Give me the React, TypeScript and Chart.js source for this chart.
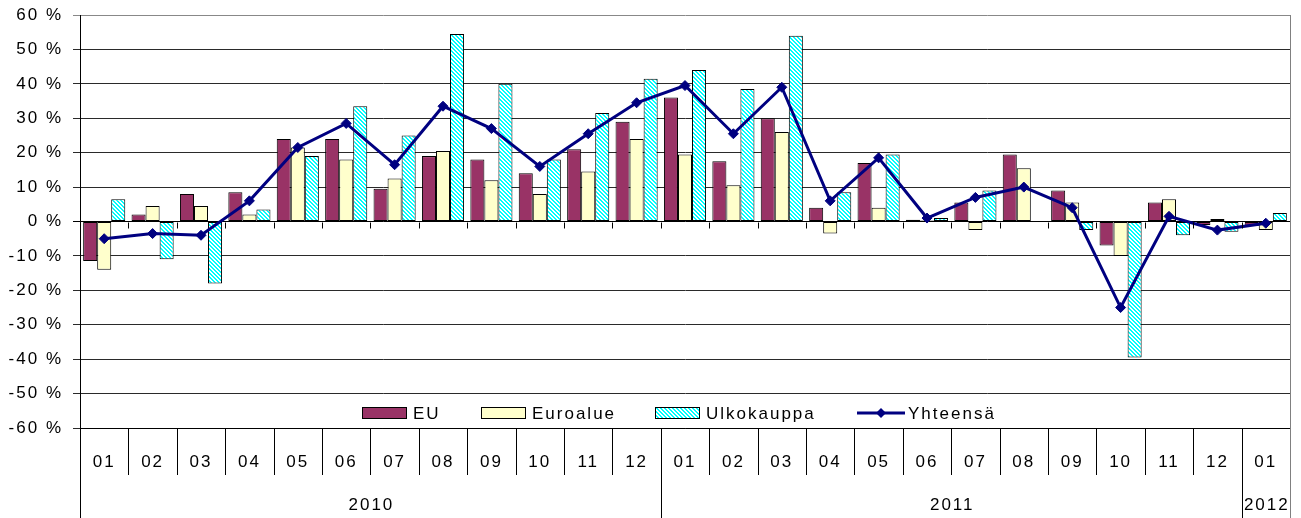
import React, { useEffect, useRef } from "react";
import { Chart, registerables } from "chart.js";

Chart.register(...registerables);

// ---- data ----
const months = [
  "01", "02", "03", "04", "05", "06", "07", "08", "09", "10", "11", "12",
  "01", "02", "03", "04", "05", "06", "07", "08", "09", "10", "11", "12",
  "01",
];
const years = ["2010", "2011", "2012"];
const yearMonthCounts = [12, 12, 1];

const eu = [
  -11.5, 2, 8, 8.5, 24, 24, 9.5, 19, 18, 14, 21, 29,
  36, 17.5, 30, 4, 17, 0.5, 5.5, 19.5, 9, -7, 5.5, -1, -1.3,
];
const euroalue = [
  -14, 4.5, 4.5, 2, 21.5, 18, 12.5, 20.5, 12, 8, 14.5, 24,
  19.5, 10.5, 26, -3.5, 4, 0.3, -2.5, 15.5, 5.5, -10, 6.5, 0.7, -2.5,
];
const ulkokauppa = [
  6.5, -11, -18, 3.5, 19, 33.5, 25, 54.5, 40, 18, 31.5, 41.5,
  44, 38.5, 54, 8.5, 19.5, 1, 9, 0, -2.5, -39.5, -4, -3, 2.5,
];
const yhteensa = [
  -5, -3.5, -4, 6, 21.5, 28.5, 16.5, 33.5, 27, 16, 25.5, 34.5,
  39.5, 25.5, 39, 6, 18.5, 1, 7, 10, 4, -25, 1.5, -2.5, -0.5,
];
const seriesNames = ["EU", "Euroalue", "Ulkokauppa", "Yhteensä"];

const FONT = '"Liberation Sans", Arial, Helvetica, sans-serif';
const FONT_SIZE = 17;
const LETTER_SPACING = "2px";

function makeHatch(): CanvasPattern | string {
  const c = document.createElement("canvas");
  c.width = 4;
  c.height = 4;
  const g = c.getContext("2d");
  if (!g) return "#00FFFF";
  g.fillStyle = "#ffffff";
  g.fillRect(0, 0, 4, 4);
  g.fillStyle = "#00FFFF";
  for (let y = 0; y < 4; y++) {
    for (let x = 0; x < 4; x++) {
      if ((((x - y) % 4) + 4) % 4 < 2) g.fillRect(x, y, 1, 1);
    }
  }
  const p = g.createPattern(c, "repeat");
  return p || "#00FFFF";
}

export default function App() {
  const ref = useRef<HTMLCanvasElement | null>(null);

  useEffect(() => {
    document.body.style.margin = "0";
    const canvas = ref.current;
    if (!canvas) return;
    const hatch = makeHatch();

    const colors = ["#993366", "#FFFFCC", hatch, "#000080"];

    const spacingPlugin = {
      id: "letterSpacing",
      beforeLayout(chart: any) {
        chart.ctx.letterSpacing = LETTER_SPACING;
      },
      beforeDraw(chart: any) {
        chart.ctx.letterSpacing = LETTER_SPACING;
      },
    };

    const excelPlugin = {
      id: "excelDecor",
      afterDraw(chart: any) {
        const { ctx, chartArea: ca, scales } = chart;
        const xs = scales.x;
        const ys = scales.y;
        const n = months.length;
        const step = (ca.right - ca.left) / n;
        const first = xs.getPixelForValue(0) - step / 2;
        const y0 = Math.round(ys.getPixelForValue(0)) + 0.5;
        const H = chart.height;
        ctx.save();
        ctx.letterSpacing = LETTER_SPACING;
        ctx.lineWidth = 1;

        // tick marks on zero line
        ctx.strokeStyle = "#000";
        for (let i = 0; i <= n; i++) {
          const bx = Math.round(first + i * step) + 0.5;
          ctx.beginPath();
          ctx.moveTo(bx, y0);
          ctx.lineTo(bx, y0 + 6);
          ctx.stroke();
        }

        // category separators
        const yearBounds: number[] = [0];
        let acc = 0;
        for (const c of yearMonthCounts) {
          acc += c;
          yearBounds.push(acc);
        }
        for (let i = 0; i <= n; i++) {
          const bx = Math.round(first + i * step) + 0.5;
          const full = yearBounds.includes(i);
          ctx.strokeStyle = i === n ? "#808080" : "#000";
          ctx.beginPath();
          ctx.moveTo(bx, ca.bottom);
          ctx.lineTo(bx, full ? H : ca.bottom + 47);
          ctx.stroke();
        }
        // right border of plot
        const rx = Math.round(first + n * step) + 0.5;
        ctx.strokeStyle = "#808080";
        ctx.beginPath();
        ctx.moveTo(rx, ca.top);
        ctx.lineTo(rx, ca.bottom);
        ctx.stroke();

        // year labels
        ctx.fillStyle = "#000";
        ctx.font = `${FONT_SIZE}px ${FONT}`;
        ctx.textAlign = "center";
        ctx.textBaseline = "middle";
        for (let k = 0; k < years.length; k++) {
          const a = first + yearBounds[k] * step;
          const b = first + yearBounds[k + 1] * step;
          ctx.fillText(years[k], (a + b) / 2 + 1, 505);
        }

        // legend
        const legY = 413;
        const symX = [362, 481, 655, 857];
        ctx.textAlign = "left";
        for (let k = 0; k < 4; k++) {
          const sx = symX[k];
          if (k < 3) {
            ctx.fillStyle = colors[k] as any;
            ctx.fillRect(sx, legY - 6, 45, 12);
            ctx.strokeStyle = "#000";
            ctx.lineWidth = 1;
            ctx.strokeRect(sx + 0.5, legY - 5.5, 44, 11);
            ctx.fillStyle = "#000";
            ctx.fillText(seriesNames[k], sx + 51, legY + 1);
          } else {
            ctx.strokeStyle = "#000080";
            ctx.lineWidth = 3;
            ctx.beginPath();
            ctx.moveTo(sx, legY);
            ctx.lineTo(sx + 48, legY);
            ctx.stroke();
            ctx.fillStyle = "#000080";
            ctx.beginPath();
            ctx.moveTo(sx + 24, legY - 5);
            ctx.lineTo(sx + 29, legY);
            ctx.lineTo(sx + 24, legY + 5);
            ctx.lineTo(sx + 19, legY);
            ctx.closePath();
            ctx.fill();
            ctx.fillStyle = "#000";
            ctx.fillText(seriesNames[k], sx + 51, legY + 1);
          }
        }
        ctx.restore();
      },
    };

    const barCommon = {
      type: "bar" as const,
      borderColor: "#000",
      borderWidth: 1,
      borderSkipped: false,
      categoryPercentage: 0.87,
      barPercentage: 1.0,
      order: 1,
    };

    const chart = new Chart(canvas, {
      type: "bar",
      data: {
        labels: months,
        datasets: [
          { ...barCommon, label: seriesNames[0], data: eu, backgroundColor: colors[0] as any },
          { ...barCommon, label: seriesNames[1], data: euroalue, backgroundColor: colors[1] as any },
          { ...barCommon, label: seriesNames[2], data: ulkokauppa, backgroundColor: colors[2] as any },
          {
            type: "line",
            label: seriesNames[3],
            data: yhteensa,
            borderColor: "#000080",
            backgroundColor: "#000080",
            borderWidth: 3,
            pointStyle: "rectRot",
            pointRadius: 5,
            pointBorderWidth: 1,
            tension: 0,
            order: 0,
          } as any,
        ],
      },
      options: {
        animation: false,
        responsive: false,
        maintainAspectRatio: false,
        layout: { padding: { top: 15, right: 11, left: 0, bottom: 0 } },
        plugins: {
          legend: { display: false },
          tooltip: { enabled: false },
        },
        scales: {
          x: {
            type: "category",
            offset: true,
            grid: { display: false, drawTicks: false },
            border: { display: true, color: "#000" },
            ticks: {
              color: "#000",
              font: { family: FONT, size: FONT_SIZE },
              padding: 24,
              maxRotation: 0,
              autoSkip: false,
            },
            afterFit: (s: any) => {
              s.height = 90;
              s.paddingLeft = 0;
              s.paddingRight = 0;
            },
          },
          y: {
            min: -60,
            max: 60,
            border: { display: true, color: "#000", width: 1 },
            grid: {
              color: (c: any) =>
                c.tick && c.tick.value === 60
                  ? "#888888"
                  : c.tick && c.tick.value === 0
                  ? "#000000"
                  : "#2a2a2a",
              tickLength: 7,
              lineWidth: 1,
            },
            ticks: {
              stepSize: 10,
              color: "#000",
              font: { family: FONT, size: FONT_SIZE },
              padding: 10,
              callback: (v: any) => `${v} %`,
            },
            afterFit: (s: any) => {
              s.width = 80;
              s.paddingTop = 0;
              s.paddingBottom = 0;
            },
          },
        },
      },
      plugins: [spacingPlugin, excelPlugin],
    });

    return () => {
      chart.destroy();
    };
  }, []);

  return (
    <div style={{ width: 1301, height: 518, background: "#fff" }}>
      <canvas ref={ref} width={1301} height={518} style={{ display: "block", width: 1301, height: 518 }} />
    </div>
  );
}
